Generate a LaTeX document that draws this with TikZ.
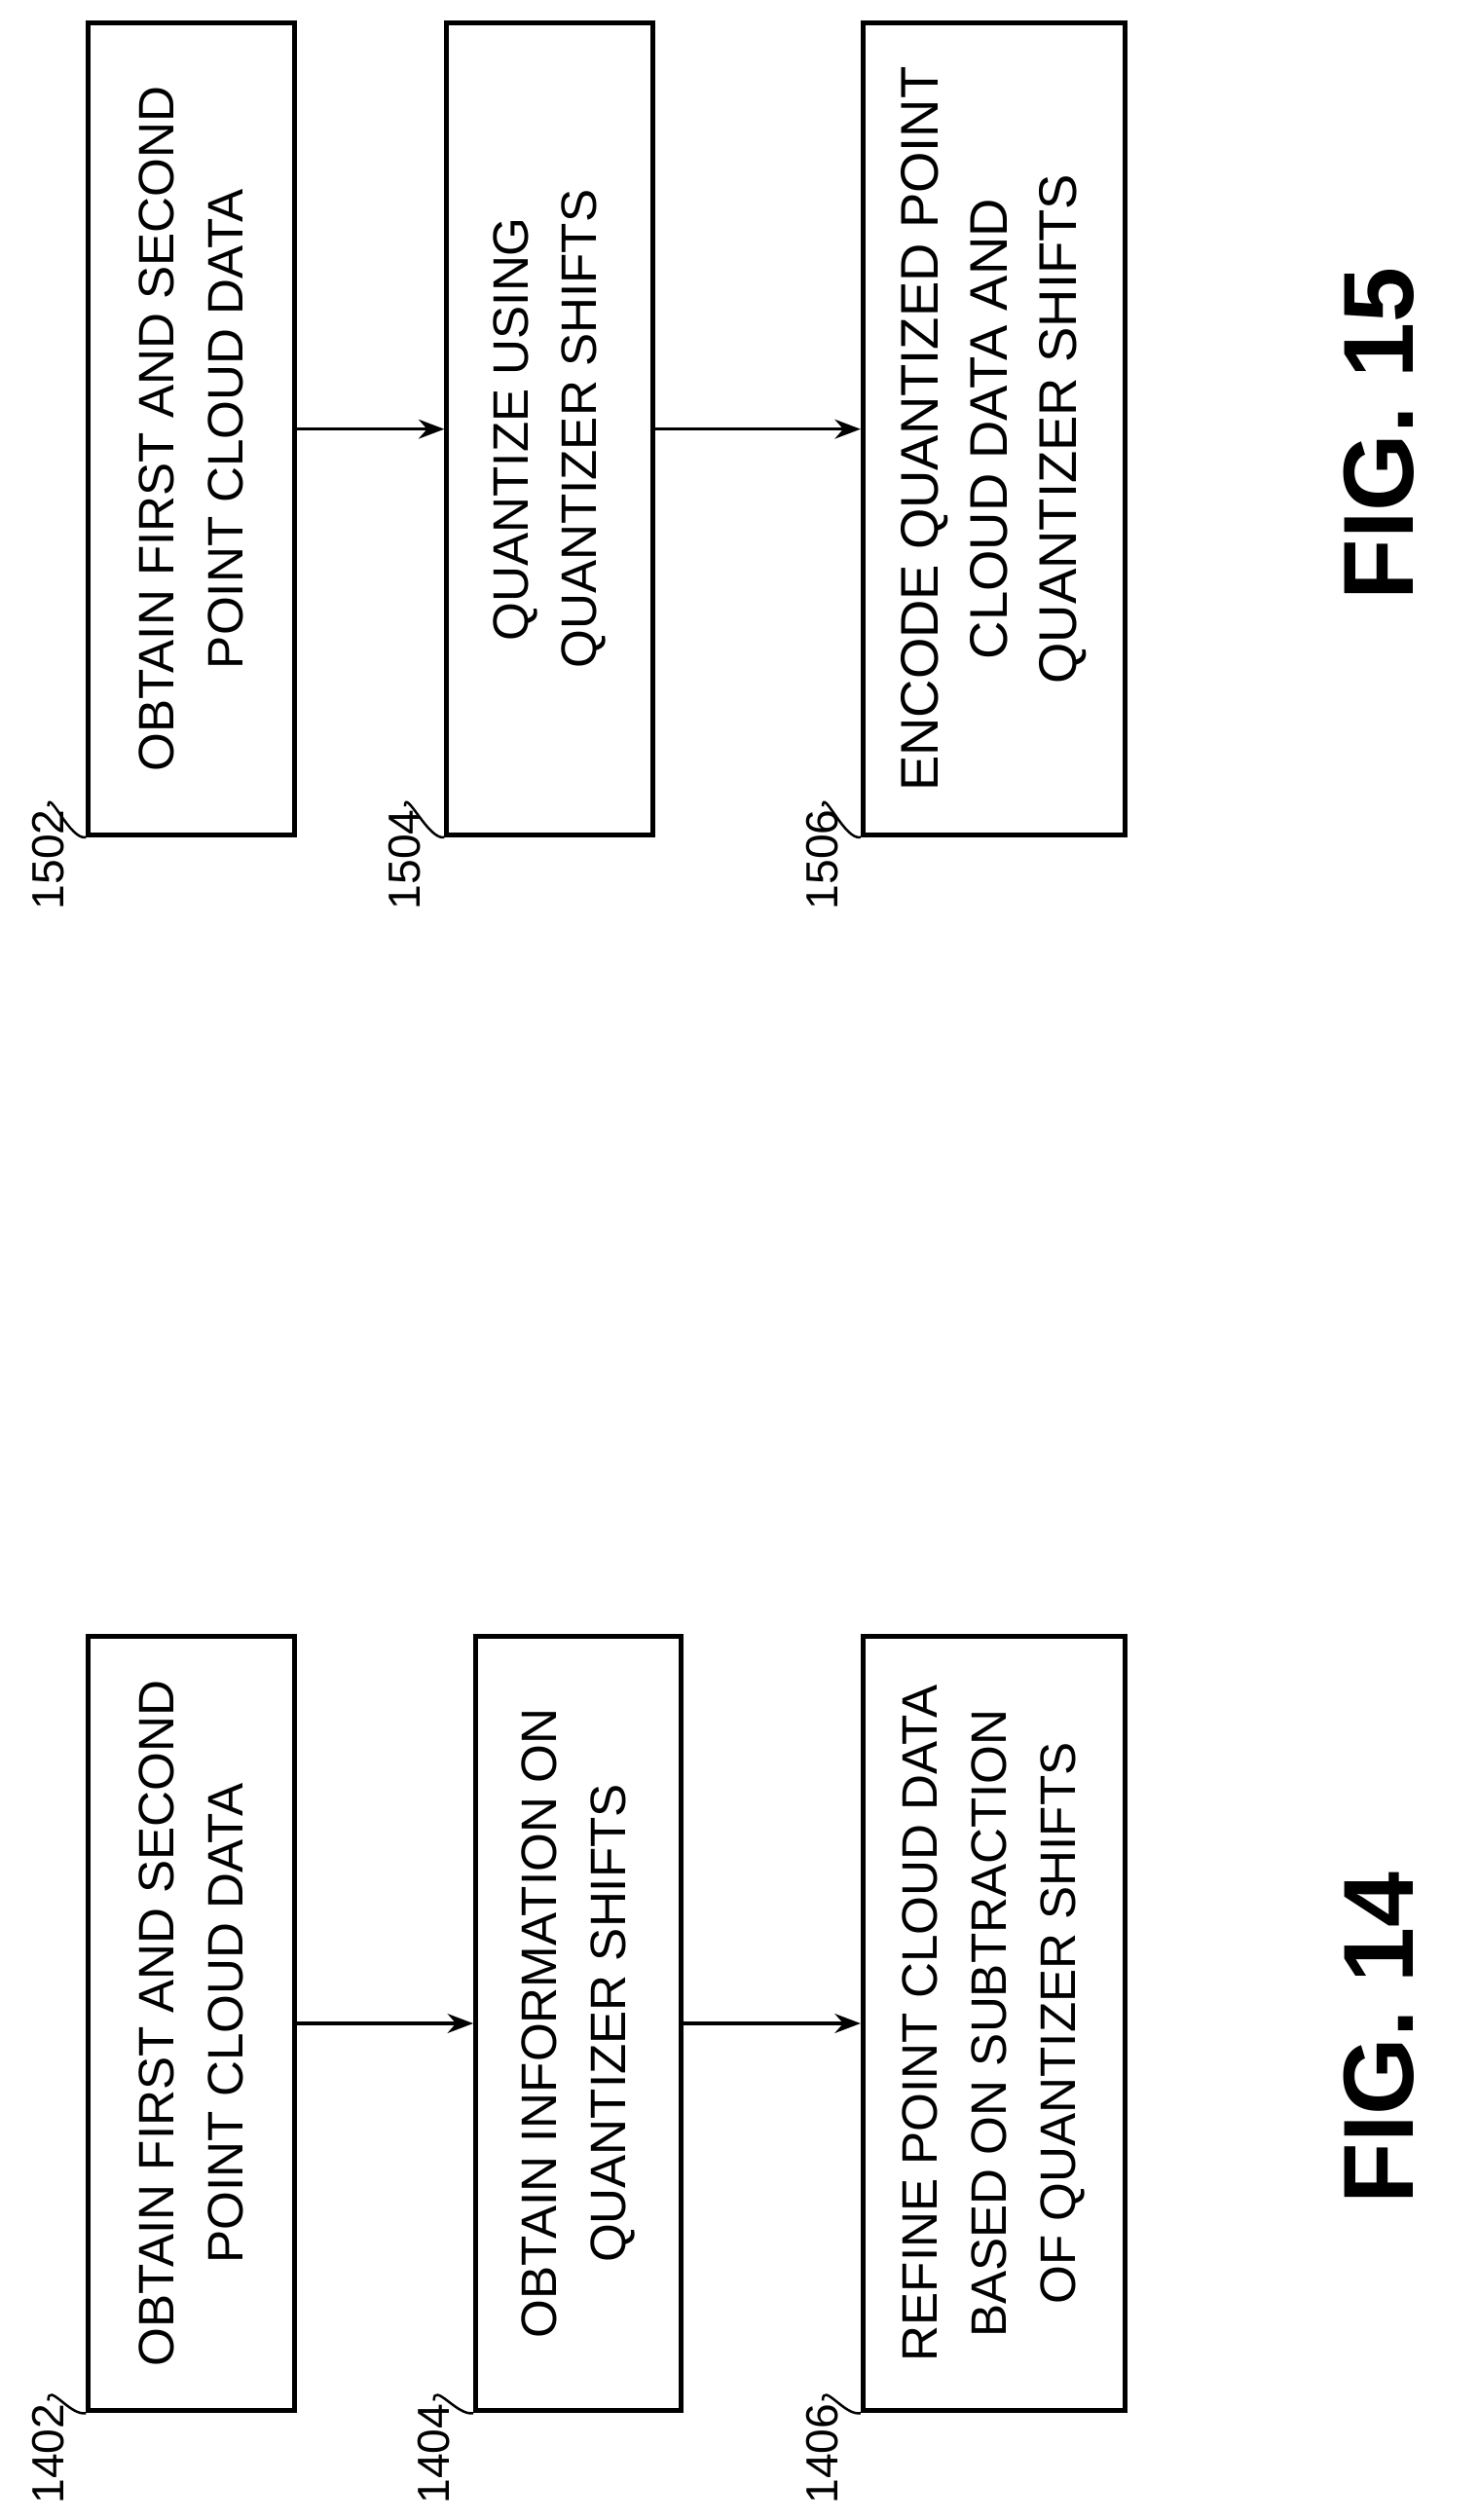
\documentclass[tikz,border=0pt]{standalone}
\usepackage{fontspec}
\setmainfont{Liberation Sans}
\usetikzlibrary{arrows.meta}
\tikzset{every picture/.style={line width=2pt}}
\tikzset{stepbox/.style={draw,line width=3pt,minimum width=482pt,minimum height=128pt,rotate=90,align=center,inner sep=0pt,font=\fontsize{31}{43}\selectfont},
	reflabel/.style={rotate=90,font=\fontsize{28}{30}\selectfont,inner sep=1pt},
	figlabel/.style={rotate=90,font=\fontsize{62}{70}\bfseries\selectfont}}

\begin{document}
\begin{tikzpicture}[x=1pt,y=1pt,yscale=-1,xscale=1]
	\useasboundingbox (0,0) rectangle (920,1568);
	
	% FIG 14
	\node[stepbox] (b1402) at (119,1259) {OBTAIN FIRST AND SECOND\\POINT CLOUD DATA};
	\node[stepbox] (b1404) at (360,1259) {OBTAIN INFORMATION ON\\QUANTIZER SHIFTS};
	\node[stepbox,minimum height=163pt] (b1406) at (618.5,1259) {REFINE POINT CLOUD DATA\\BASED ON SUBTRACTION\\OF QUANTIZER SHIFTS};
	\draw[-{Stealth[length=16pt,width=12pt]}] (b1402.south) -- (b1404.north);
	\draw[-{Stealth[length=16pt,width=12pt]}] (b1404.south) -- (b1406.north);
	
	% FIG 15
	\node[stepbox,minimum width=505pt] (b1502) at (119,267) {OBTAIN FIRST AND SECOND\\POINT CLOUD DATA};
	\node[stepbox,minimum width=505pt] (b1504) at (342,267) {QUANTIZE USING\\QUANTIZER SHIFTS};
	\node[stepbox,minimum width=505pt,minimum height=163pt,font=\fontsize{33}{43}\selectfont] (b1506) at (618.5,267) {ENCODE QUANTIZED POINT\\CLOUD DATA AND\\QUANTIZER SHIFTS};
	\draw[-{Stealth[length=16pt,width=12pt]}] (b1502.south) -- (b1504.north);
	\draw[-{Stealth[length=16pt,width=12pt]}] (b1504.south) -- (b1506.north);
	
	% reference numbers
	\foreach \rf/\bx/\x/\y in {1402/b1402/30/1560,1404/b1404/270/1560,1406/b1406/512/1560,1502/b1502/30/568,1504/b1504/252/568,1506/b1506/512/568}{
		\node[reflabel,anchor=west] (l\rf) at (\x,\y) {\rf};
		\draw[line width=1.5pt] (l\rf.east) .. controls +(0,-12) and +(-10,2) .. (\bx.north west);
	}
	
	% figure titles
	\node[figlabel] (fig14) at (858,1268) {FIG. 14};
	\node[figlabel] (fig15) at (858,270) {FIG. 15};
\end{tikzpicture}
\end{document}
